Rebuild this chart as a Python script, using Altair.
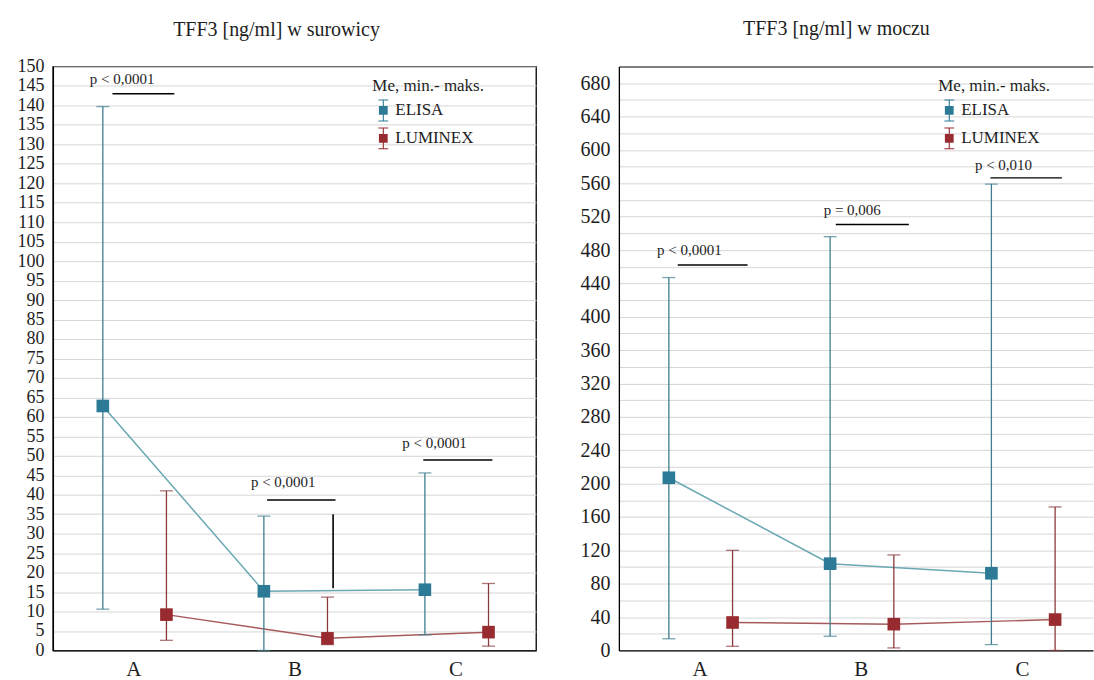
import altair as alt
import pandas as pd

# ---------------- data ----------------
categories = ["A", "B", "C"]
methods = ["ELISA", "LUMINEX"]

# Serum (w surowicy) – median, min, max
serum_elisa_median = [62.8, 15.2, 15.6]
serum_elisa_min = [10.6, 0.0, 4.0]
serum_elisa_max = [139.7, 34.5, 45.6]
serum_luminex_median = [9.2, 3.1, 4.7]
serum_luminex_min = [2.6, 1.5, 1.1]
serum_luminex_max = [41.0, 13.7, 17.2]

# Urine (w moczu) – median, min, max
urine_elisa_median = [207.0, 104.0, 92.5]
urine_elisa_min = [14.0, 17.0, 7.0]
urine_elisa_max = [447.0, 496.0, 559.0]
urine_luminex_median = [33.5, 31.5, 37.0]
urine_luminex_min = [5.0, 3.0, 0.0]
urine_luminex_max = [120.0, 114.5, 172.0]

# p-value annotations
serum_p_text = ["p < 0,0001", "p < 0,0001", "p < 0,0001"]
serum_p_x = [0.93, 1.93, 2.87]
serum_p_y = [146.8, 43.3, 53.3]
serum_bar_x1 = [0.87, 1.83, 2.80]
serum_bar_x2 = [1.254, 2.255, 3.229]
serum_bar_y = [143.0, 38.65, 48.9]
serum_vline_x = [2.24]
serum_vline_y1 = [16.0]
serum_vline_y2 = [35.0]

urine_p_text = ["p < 0,0001", "p = 0,006", "p < 0,010"]
urine_p_x = [0.937, 1.947, 2.885]
urine_p_y = [480.0, 528.0, 582.0]
urine_bar_x1 = [0.865, 1.845, 2.804]
urine_bar_x2 = [1.298, 2.298, 3.247]
urine_bar_y = [462.0, 510.6, 566.5]

# ---------------- style ----------------
SERIF = "Liberation Serif"
TXT = "#1e1e1e"
FILL = {"ELISA": "#2c7a96", "LUMINEX": "#982b2f"}
WHISK = {"ELISA": "#3f7d8e", "LUMINEX": "#8b3a3c"}
LINEC = {"ELISA": "#6aa8b3", "LUMINEX": "#a65a5b"}
OFFSET = {"ELISA": -0.19, "LUMINEX": 0.205}
GRID = "#d6d6d6"
LEG_PATH = ("M-0.05,-1H0.05V1H-0.05Z M-0.45,-1H0.45V-0.91H-0.45Z "
            "M-0.45,0.91H0.45V1H-0.45Z M-0.4,-0.4H0.4V0.4H-0.4Z")


def make_df(me, lo_e, hi_e, ml, lo_l, hi_l):
    rows = []
    for i, c in enumerate(categories):
        for m, med, lo, hi in (("ELISA", me[i], lo_e[i], hi_e[i]),
                               ("LUMINEX", ml[i], lo_l[i], hi_l[i])):
            rows.append({"group": c, "method": m, "pos": i + 1 + OFFSET[m],
                         "median": med, "lo": lo, "hi": hi})
    return pd.DataFrame(rows)


def panel(df, ptext, px, py, bx1, bx2, by, vx, vy1, vy2, ymax, ystep, label_step,
          width, xmax, title, frame, ylab_size):
    xs = alt.Scale(domain=[0.5, xmax], nice=False, zero=False)
    ys = alt.Scale(domain=[0, ymax], nice=False, zero=True)
    cat_js = "[" + ",".join("'%s'" % c for c in categories) + "]"
    x_axis = alt.Axis(values=[1, 2, 3], labelExpr=cat_js + "[datum.value - 1]",
                      title=None, grid=False, ticks=False, labelFont=SERIF,
                      labelFontSize=21, labelPadding=8, labelColor=TXT,
                      domainColor="black", domainWidth=1.3)
    if label_step == ystep:
        lab_expr = "datum.label"
    else:
        lab_expr = ("datum.value %% %d == 0 && datum.value < %d ? datum.label : ''"
                    % (label_step, ymax))
    grid_color = GRID if frame else {"condition": {"test": "datum.value === %d" % ymax,
                                                    "value": "black"}, "value": GRID}
    y_axis = alt.Axis(values=list(range(0, ymax + 1, ystep)), labelExpr=lab_expr,
                      title=None, grid=True, gridColor=grid_color, ticks=False,
                      labelFont=SERIF, labelFontSize=ylab_size, labelPadding=9,
                      labelOverlap=False, labelColor=TXT, domainColor="black",
                      domainWidth=1.3)

    def X(f):
        return alt.X(f, type="quantitative", scale=xs, axis=x_axis)

    def Y(f):
        return alt.Y(f, type="quantitative", scale=ys, axis=y_axis)

    base = alt.Chart(df)
    layers = []
    for m in methods:
        sub = base.transform_filter(alt.datum.method == m)
        layers.append(sub.mark_line(color=LINEC[m], strokeWidth=1.5).encode(
            x=X("pos"), y=Y("median")))
    for m in methods:
        sub = base.transform_filter(alt.datum.method == m)
        layers.append(sub.mark_rule(color=WHISK[m], strokeWidth=1.3).encode(
            x=X("pos"), y=Y("lo"), y2=alt.Y2("hi")))
        layers.append(sub.mark_tick(color=WHISK[m], orient="horizontal", size=13,
                                    thickness=1.3).encode(x=X("pos"), y=Y("lo")))
        layers.append(sub.mark_tick(color=WHISK[m], orient="horizontal", size=13,
                                    thickness=1.3).encode(x=X("pos"), y=Y("hi")))

    legend = alt.Legend(title="Me, min.- maks.", orient="none", legendX=320, legendY=12,
                        titleFont=SERIF, titleFontSize=17, titleFontWeight="normal",
                        titleColor=TXT, labelFont=SERIF, labelFontSize=17,
                        labelColor=TXT, symbolType=LEG_PATH, symbolSize=484,
                        symbolStrokeWidth=0, symbolOpacity=1, rowPadding=6,
                        titlePadding=4, labelOffset=1)
    layers.append(base.mark_square(size=160, opacity=1, filled=True).encode(
        x=X("pos"), y=Y("median"),
        color=alt.Color("method:N",
                        scale=alt.Scale(domain=methods,
                                        range=[FILL[m] for m in methods]),
                        legend=legend)))

    ann = pd.DataFrame({"text": ptext, "x": px, "y": py})
    bars = pd.DataFrame({"x1": bx1, "x2": bx2, "y": by})
    layers.append(alt.Chart(bars).mark_rule(color="black", strokeWidth=1.4).encode(
        x=X("x1"), x2=alt.X2("x2"), y=Y("y")))
    layers.append(alt.Chart(ann).mark_text(font=SERIF, fontSize=15, color=TXT,
                                           align="center", baseline="middle").encode(
        x=X("x"), y=Y("y"), text="text:N"))
    if vx:
        vl = pd.DataFrame({"x": vx, "y1": vy1, "y2": vy2})
        layers.append(alt.Chart(vl).mark_rule(color="black", strokeWidth=1.6).encode(
            x=X("x"), y=Y("y1"), y2=alt.Y2("y2")))

    props = dict(width=width, height=585,
                 title=alt.TitleParams(title, font=SERIF, fontSize=20,
                                       fontWeight="normal", anchor="middle",
                                       frame="bounds", offset=18, color=TXT))
    if not frame:
        props["view"] = alt.ViewBackground(stroke="transparent")
    return alt.layer(*layers).properties(**props)


serum_df = make_df(serum_elisa_median, serum_elisa_min, serum_elisa_max,
                   serum_luminex_median, serum_luminex_min, serum_luminex_max)
urine_df = make_df(urine_elisa_median, urine_elisa_min, urine_elisa_max,
                   urine_luminex_median, urine_luminex_min, urine_luminex_max)

left = panel(serum_df, serum_p_text, serum_p_x, serum_p_y, serum_bar_x1,
             serum_bar_x2, serum_bar_y, serum_vline_x, serum_vline_y1,
             serum_vline_y2, 150, 5, 5, 484, 3.5, "TFF3 [ng/ml] w surowicy", True, 18)
right = panel(urine_df, urine_p_text, urine_p_x, urine_p_y, urine_bar_x1,
              urine_bar_x2, urine_bar_y, [], [], [], 700, 20, 40, 475, 3.44,
              "TFF3 [ng/ml] w moczu", False, 20)

chart = (alt.hconcat(left, right, spacing=42)
         .resolve_scale(x="independent", y="independent", color="independent")
         .resolve_legend(color="independent")
         .properties(padding={"left": 16, "top": 17, "right": 0, "bottom": 0},
                     background="white")
         .configure_view(stroke="black", strokeWidth=1.3)
         .configure_axis(labelFont=SERIF, labelColor=TXT)
         .configure_title(font=SERIF, fontWeight="normal", color=TXT)
         .configure_legend(titleFont=SERIF, labelFont=SERIF))

chart.save("out.html", embed_options={"renderer": "svg", "actions": False})
